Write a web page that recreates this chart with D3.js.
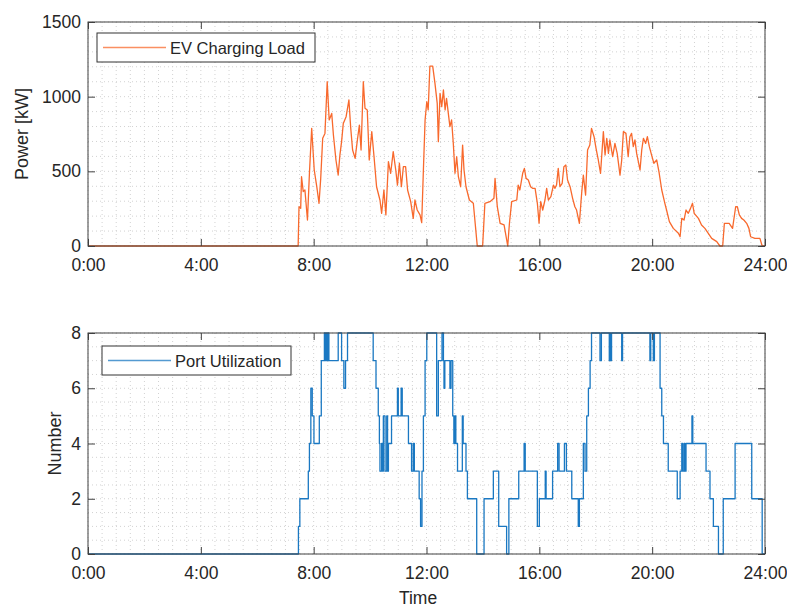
<!DOCTYPE html>
<html>
<head>
<meta charset="utf-8">
<script src="https://cdn.jsdelivr.net/npm/d3@7"></script>
<style>
  body { margin: 0; background: #fff; }
  svg { font-family: "Liberation Sans", Arial, sans-serif; }
</style>
</head>
<body>
<svg id="chart" width="787" height="610"></svg>
<script>
// EV charging load [kW], time in hours of day
var loadHours = [
  0, 7.45, 7.48, 7.54, 7.57, 7.63, 7.69, 7.78, 7.85, 7.93,
  8.02, 8.11, 8.19, 8.25, 8.32, 8.40, 8.48, 8.55, 8.64, 8.70,
  8.79, 8.87, 8.93, 8.99, 9.05, 9.15, 9.25, 9.31, 9.38, 9.47,
  9.55, 9.62, 9.68, 9.76, 9.82, 9.90, 9.97, 10.06, 10.14, 10.23,
  10.35, 10.41, 10.49, 10.56, 10.65, 10.73, 10.82, 10.91, 10.97, 11.04,
  11.11, 11.18, 11.26, 11.33, 11.44, 11.53, 11.59, 11.67, 11.77, 11.83,
  11.89, 11.95, 12.01, 12.06, 12.12, 12.22, 12.30, 12.38, 12.42, 12.48,
  12.54, 12.60, 12.66, 12.71, 12.83, 12.89, 12.95, 13.01, 13.07, 13.13,
  13.21, 13.28, 13.33, 13.40, 13.52, 13.66, 13.80, 13.99, 14.07, 14.25,
  14.39, 14.43, 14.51, 14.61, 14.75, 14.88, 14.94, 15.02, 15.20, 15.25,
  15.31, 15.41, 15.47, 15.53, 15.61, 15.69, 15.76, 15.85, 15.93, 15.99,
  16.05, 16.12, 16.20, 16.26, 16.32, 16.41, 16.50, 16.55, 16.61, 16.67,
  16.73, 16.81, 16.87, 16.94, 17.00, 17.09, 17.18, 17.26, 17.32, 17.42,
  17.50, 17.56, 17.64, 17.71, 17.79, 17.85, 17.94, 18.01, 18.09, 18.17,
  18.27, 18.33, 18.39, 18.45, 18.50, 18.60, 18.68, 18.76, 18.86, 18.92,
  18.98, 19.07, 19.15, 19.21, 19.27, 19.33, 19.39, 19.45, 19.57, 19.63,
  19.69, 19.77, 19.83, 19.90, 19.98, 20.06, 20.16, 20.24, 20.34, 20.45,
  20.51, 20.61, 20.75, 20.93, 20.99, 21.05, 21.13, 21.20, 21.28, 21.36,
  21.43, 21.49, 21.64, 21.75, 21.87, 21.99, 22.11, 22.29, 22.40, 22.50,
  22.56, 22.73, 22.85, 22.96, 23.02, 23.09, 23.17, 23.25, 23.35, 23.43,
  23.49, 23.64, 23.82, 23.90, 24
];
var loadKW = [
  0, 0, 263, 252, 464, 364, 375, 174, 487, 788,
  509, 397, 286, 453, 721, 754, 1100, 844, 888, 743,
  576, 475, 609, 699, 821, 866, 978, 799, 643, 587,
  710, 810, 643, 1100, 922, 911, 576, 766, 598, 397,
  308, 219, 375, 208, 565, 487, 632, 509, 408, 554,
  397, 531, 531, 375, 297, 185, 308, 241, 208, 156,
  509, 844, 966, 911, 1205, 1205, 1089, 955, 699, 1022,
  933, 1045, 911, 989, 799, 844, 687, 487, 598, 464,
  397, 676, 509, 397, 308, 286, 0, 0, 286, 297,
  319, 453, 263, 152, 141, 0, 152, 297, 308, 408,
  375, 487, 520, 453, 442, 397, 386, 386, 286, 152,
  297, 241, 308, 386, 308, 330, 408, 386, 408, 520,
  397, 420, 531, 542, 442, 397, 319, 263, 241, 152,
  353, 475, 341, 643, 676, 788, 732, 654, 576, 487,
  766, 609, 721, 620, 710, 598, 687, 620, 475, 576,
  766, 754, 598, 732, 754, 665, 710, 620, 509, 643,
  721, 687, 732, 665, 609, 554, 576, 498, 375, 286,
  241, 163, 118, 85, 62, 185, 174, 241, 219, 252,
  286, 219, 185, 141, 118, 85, 51, 29, 0, 0,
  152, 152, 118, 263, 263, 208, 185, 174, 152, 118,
  62, 51, 51, 0, 0
];

// number of occupied charging ports (value holds until next time)
var portHours = [
  0, 7.46, 7.51, 7.81, 7.85, 7.90, 7.95, 8.01, 8.20, 8.27,
  8.38, 8.42, 8.45, 8.48, 8.50, 8.54, 8.87, 8.99, 9.07, 9.13,
  9.20, 10.11, 10.21, 10.29, 10.33, 10.35, 10.41, 10.44, 10.47, 10.53,
  10.59, 10.62, 10.65, 10.76, 10.97, 11.00, 11.10, 11.14, 11.36, 11.47,
  11.53, 11.57, 11.74, 11.79, 11.84, 11.89, 11.95, 12.01, 12.36, 12.42,
  12.55, 12.60, 12.62, 12.65, 12.83, 12.87, 12.93, 12.97, 13.00, 13.04,
  13.10, 13.27, 13.30, 13.40, 13.45, 13.78, 14.04, 14.37, 14.56, 14.84,
  14.92, 15.27, 15.46, 15.50, 15.93, 16.00, 16.21, 16.24, 16.47, 16.65,
  16.70, 16.89, 16.96, 17.15, 17.38, 17.42, 17.56, 17.62, 17.68, 17.74,
  17.80, 17.85, 18.15, 18.20, 18.48, 18.50, 18.53, 18.56, 18.92, 18.95,
  19.92, 19.95, 20.04, 20.08, 20.28, 20.34, 20.40, 20.57, 20.89, 20.99,
  21.05, 21.08, 21.13, 21.16, 21.20, 21.41, 21.44, 21.91, 22.05, 22.17,
  22.35, 22.52, 22.94, 23.53, 23.90, 24
];
var portCount = [
  0, 1, 2, 3, 4, 6, 5, 4, 5, 7,
  8, 7, 8, 7, 8, 7, 8, 7, 6, 7,
  8, 7, 6, 5, 4, 3, 4, 3, 5, 3,
  5, 3, 4, 5, 6, 5, 6, 5, 4, 3,
  4, 3, 2, 1, 3, 5, 7, 8, 5, 7,
  8, 7, 6, 7, 6, 7, 5, 4, 5, 4,
  3, 5, 4, 3, 2, 0, 2, 3, 1, 0,
  2, 3, 4, 3, 1, 2, 3, 2, 3, 4,
  3, 4, 3, 2, 1, 2, 4, 3, 5, 6,
  7, 8, 7, 8, 7, 8, 7, 8, 7, 8,
  7, 8, 7, 8, 6, 5, 4, 3, 2, 3,
  4, 3, 4, 3, 4, 5, 4, 3, 2, 1,
  0, 2, 4, 2, 0, 0
];

var hourTicks = [0, 4, 8, 12, 16, 20, 24];
var loadTicks = [0, 500, 1000, 1500];
var portTicks = [0, 2, 4, 6, 8];

var svg = d3.select('#chart');
var left = 88, right = 765;
var textColor = '#262626';

var x = d3.scaleLinear().domain([0, 24]).range([left, right]);

function drawPanel(cfg) {
    var y = d3.scaleLinear().domain(cfg.domain).range([cfg.bottom, cfg.top]);
    var g = svg.append('g');

    // minor grid, dotted
    var minorX = d3.range(0, 24.01, 0.5);
    var minorY = d3.range(cfg.domain[0], cfg.domain[1] + 1e-6, cfg.minorStep);
    g.selectAll('.mx').data(minorX).enter().append('line')
        .attr('x1', function(d) { return x(d); }).attr('x2', function(d) { return x(d); })
        .attr('y1', cfg.top).attr('y2', cfg.bottom)
        .attr('stroke', '#d2d2d2').attr('stroke-width', 1)
        .attr('stroke-dasharray', '1,3');
    g.selectAll('.my').data(minorY).enter().append('line')
        .attr('x1', left).attr('x2', right)
        .attr('y1', function(d) { return y(d); }).attr('y2', function(d) { return y(d); })
        .attr('stroke', '#d2d2d2').attr('stroke-width', 1)
        .attr('stroke-dasharray', '1,3');

    // clip for the data line
    svg.append('clipPath').attr('id', cfg.id + 'clip').append('rect')
        .attr('x', left).attr('y', cfg.top - 1)
        .attr('width', right - left).attr('height', cfg.bottom - cfg.top + 2);

    var line = d3.line()
        .x(function(d) { return x(d[0]); })
        .y(function(d) { return y(d[1]); })
        .curve(cfg.curve);
    g.append('path')
        .datum(d3.zip(cfg.hours, cfg.values))
        .attr('clip-path', 'url(#' + cfg.id + 'clip)')
        .attr('fill', 'none')
        .attr('stroke', cfg.color)
        .attr('stroke-width', 1.3)
        .attr('stroke-linejoin', 'round')
        .attr('d', line);

    // axes, ticks pointing inward
    var xb = g.append('g').attr('transform', 'translate(0,' + cfg.bottom + ')')
        .call(d3.axisBottom(x).tickValues(hourTicks).tickSize(-7).tickPadding(13)
            .tickFormat(function(d) { return d + ':00'; }));
    var xt = g.append('g').attr('transform', 'translate(0,' + cfg.top + ')')
        .call(d3.axisTop(x).tickValues(hourTicks).tickSize(-7).tickFormat(''));
    var yl = g.append('g').attr('transform', 'translate(' + left + ',0)')
        .call(d3.axisLeft(y).tickValues(cfg.ticks).tickSize(-7).tickPadding(7)
            .tickFormat(d3.format('d')));
    var yr = g.append('g').attr('transform', 'translate(' + right + ',0)')
        .call(d3.axisRight(y).tickValues(cfg.ticks).tickSize(-7).tickFormat(''));
    [xb, xt, yl, yr].forEach(function(a) {
        a.select('.domain').remove();
        a.selectAll('.tick line').attr('stroke', '#404040');
        a.selectAll('text').attr('fill', textColor)
            .style('font-size', '17.5px')
            .style('font-family', '"Liberation Sans", Arial, sans-serif');
    });

    g.append('rect')
        .attr('x', left).attr('y', cfg.top)
        .attr('width', right - left).attr('height', cfg.bottom - cfg.top)
        .attr('fill', 'none').attr('stroke', '#404040').attr('stroke-width', 1);

    // y label
    g.append('text')
        .attr('transform', 'translate(' + cfg.labelX + ',' + (cfg.top + cfg.bottom) / 2 + ') rotate(-90)')
        .attr('text-anchor', 'middle')
        .attr('fill', textColor)
        .style('font-size', '18px')
        .text(cfg.label);

    // legend
    var lg = g.append('g').attr('transform', 'translate(' + cfg.legend[0] + ',' + cfg.legend[1] + ')');
    lg.append('rect').attr('width', cfg.legend[2]).attr('height', 29)
        .attr('fill', '#fff').attr('stroke', '#333').attr('stroke-width', 1);
    lg.append('line').attr('x1', 6).attr('x2', 69).attr('y1', 14.5).attr('y2', 14.5)
        .attr('stroke', cfg.color).attr('stroke-width', 1.3).attr('stroke-opacity', 0.75);
    lg.append('text').attr('x', 73).attr('y', 20.5)
        .attr('fill', textColor)
        .style('font-size', '16.5px')
        .text(cfg.name);
}

drawPanel({
    id: 'load', top: 22, bottom: 246, domain: [0, 1500], minorStep: 100,
    ticks: loadTicks, hours: loadHours, values: loadKW,
    curve: d3.curveLinear, color: '#f8692d',
    label: 'Power [kW]', labelX: 28,
    name: 'EV Charging Load', legend: [97, 33, 218]
});

drawPanel({
    id: 'port', top: 333, bottom: 554, domain: [0, 8], minorStep: 0.5,
    ticks: portTicks, hours: portHours, values: portCount,
    curve: d3.curveStepAfter, color: '#1a78c2',
    label: 'Number', labelX: 61,
    name: 'Port Utilization', legend: [102, 346, 189]
});

svg.append('text')
    .attr('x', 418).attr('y', 604)
    .attr('text-anchor', 'middle')
    .attr('fill', textColor)
    .style('font-size', '17.5px')
    .text('Time');
</script>
</body>
</html>
